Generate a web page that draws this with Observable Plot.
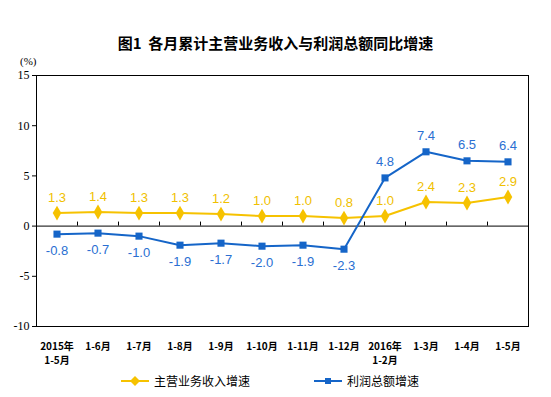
<!DOCTYPE html>
<html><head><meta charset="utf-8">
<script src="https://cdn.jsdelivr.net/npm/d3@7"></script>
<script src="https://cdn.jsdelivr.net/npm/@observablehq/plot@0.6"></script>
<style>
body{margin:0;background:#fff;}
#wrap{position:relative;width:551px;height:397px;overflow:hidden;}
#title{position:absolute;top:32px;left:0;width:551px;text-align:center;font-family:"Noto Sans CJK SC";font-weight:bold;font-size:15px;color:#000;}
#unit{position:absolute;top:55px;left:20px;font-family:"Liberation Serif","Noto Sans CJK SC";font-size:11px;color:#000;}
#legend{position:absolute;top:372px;left:0;width:551px;font-family:"Noto Sans CJK SC";font-size:12px;color:#000;}
.li{position:absolute;display:flex;align-items:center;}
g[aria-label="y-axis tick label"] text{font-family:"Liberation Serif",serif;}
</style></head>
<body><div id="wrap">
<div id="title">图1&nbsp; 各月累计主营业务收入与利润总额同比增速</div>
<div id="unit">(%)</div>
<div id="chart"></div>
<div id="legend">
<div class="li" style="left:121px"><svg width="30" height="16"><line x1="0" y1="8" x2="28" y2="8" stroke="#F6C200" stroke-width="2"/><path d="M14,3 L19,8 L14,13 L9,8Z" fill="#F6C200"/></svg><span style="margin-left:3px">主营业务收入增速</span></div>
<div class="li" style="left:314px"><svg width="30" height="16"><line x1="0" y1="8" x2="28" y2="8" stroke="#1565C8" stroke-width="2"/><rect x="11" y="5" width="6" height="6" fill="#1565C8"/></svg><span style="margin-left:3px">利润总额增速</span></div>
</div>
</div>
<script>
const categories = ["2015年\n1-5月","1-6月","1-7月","1-8月","1-9月","1-10月","1-11月","1-12月","2016年\n1-2月","1-3月","1-4月","1-5月"];
const revenueGrowth = [1.3,1.4,1.3,1.3,1.2,1.0,1.0,0.8,1.0,2.4,2.3,2.9];
const profitGrowth = [-0.8,-0.7,-1.0,-1.9,-1.7,-2.0,-1.9,-2.3,4.8,7.4,6.5,6.4];
const yTicks = [-10,-5,0,5,10,15];

const rev = categories.map((c,i)=>({i, v: revenueGrowth[i]}));
const prof = categories.map((c,i)=>({i, v: profitGrowth[i]}));
const bounds = d3.range(1, categories.length).map(k=>k-0.5);

const yellow = "#F6C200", blue = "#1565C8";
const chart = Plot.plot({
  width: 551, height: 397,
  marginLeft: 36, marginRight: 23, marginTop: 75, marginBottom: 71,
  x: {type: "linear", domain: [-0.5, categories.length - 0.5]},
  y: {domain: [-10, 15]},
  style: {background: "#fff", overflow: "visible"},
  marks: [
    Plot.frame({stroke: "#000", strokeWidth: 1}),
    Plot.ruleY([0], {stroke: "#000", strokeWidth: 1}),
    Plot.ruleX(bounds, {y1: 0, y2: 0.4, stroke: "#000", strokeWidth: 1}),
    Plot.axisY(yTicks, {anchor: "left", tickSize: 4, tickPadding: 3, fontSize: 12, label: null, tickFormat: d=>String(d)}),
    Plot.axisX(d3.range(categories.length), {anchor: "bottom", tickSize: 0, tickPadding: 13, fontSize: 10, fontFamily: "Noto Sans CJK SC", fontWeight: "bold", lineHeight: 1.45, label: null, tickFormat: i=>categories[i]}),
    Plot.line(rev, {x: "i", y: "v", stroke: yellow, strokeWidth: 2}),
    Plot.dot(rev, {x: "i", y: "v", symbol: "diamond", r: 4.5, fill: yellow}),
    Plot.line(prof, {x: "i", y: "v", stroke: blue, strokeWidth: 2}),
    Plot.dot(prof, {x: "i", y: "v", symbol: "square", r: 4, fill: blue}),
    Plot.text(rev, {x: "i", y: "v", text: d=>d.v.toFixed(1), dy: -15, fill: "#F0C000", fontSize: 13, fontFamily: "Liberation Sans"}),
    Plot.text(prof, {x: "i", y: "v", text: d=>d.v.toFixed(1), fill: "#2A6FD2", fontSize: 13, fontFamily: "Liberation Sans", filter: d=>d.v>=0, dy: -16}),
    Plot.text(prof, {x: "i", y: "v", text: d=>d.v.toFixed(1), fill: "#2A6FD2", fontSize: 13, fontFamily: "Liberation Sans", filter: d=>d.v<0, dy: 17})
  ]
});
document.getElementById("chart").appendChild(chart);
</script>
</body></html>
